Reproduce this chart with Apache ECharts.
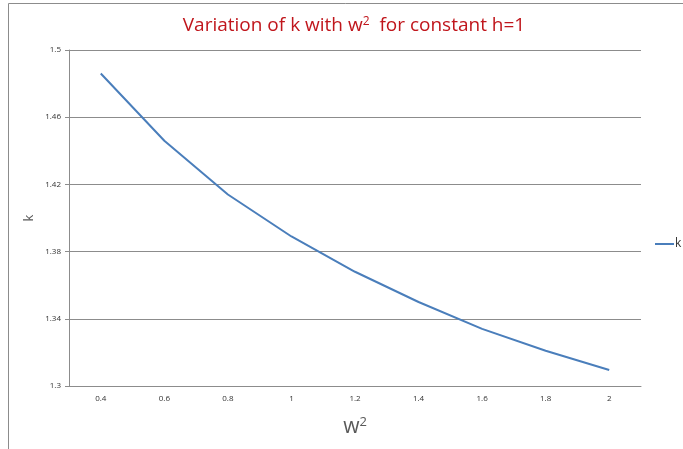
<!DOCTYPE html>
<html>
<head>
<meta charset="utf-8">
<script src="https://cdn.jsdelivr.net/npm/echarts@6/dist/echarts.min.js"></script>
<style>html,body{margin:0;padding:0;background:#fff}#c{width:683px;height:449px}</style>
</head>
<body>
<div id="c"></div>
<script>
var categories = ['0.4','0.6','0.8','1','1.2','1.4','1.6','1.8','2'];
var kValues = [1.486, 1.446, 1.414, 1.389, 1.368, 1.350, 1.334, 1.321, 1.3095];
var yTicks = [1.3, 1.34, 1.38, 1.42, 1.46, 1.5];

var chart = echarts.init(document.getElementById('c'));
chart.setOption({
  animation: false,
  backgroundColor: '#fff',
  title: {
    text: '{a|Variation of k with w}{s|2}{a|  for constant h=1}',
    left: 349, textAlign: 'center', top: 11,
    textStyle: {
      fontWeight: 'normal',
      rich: {
        a: {fontFamily: 'Open Sans', fontSize: 19, fontWeight: 'normal', color: '#C0161C'},
        s: {fontFamily: 'Open Sans', fontSize: 12, fontWeight: 'normal', color: '#C0161C', verticalAlign: 'top', padding: [0,0,8,0]}
      }
    }
  },
  legend: {
    data: ['k'], left: 655, top: 238, orient: 'vertical', padding: 0,
    itemWidth: 19, itemHeight: 2, itemGap: 2,
    icon: 'rect',
    textStyle: {fontFamily: 'Open Sans', fontSize: 12, color: '#333', padding: [0,0,0,-4]}
  },
  grid: {left: 69, right: 42, top: 50, bottom: 63},
  xAxis: {
    type: 'category', data: categories, boundaryGap: true,
    name: '{a|w}{s|2}', nameLocation: 'middle', nameGap: 30,
    nameTextStyle: {
      rich: {
        a: {fontFamily: 'Open Sans', fontSize: 21, color: '#595959'},
        s: {fontFamily: 'Open Sans', fontSize: 13, color: '#595959', verticalAlign: 'top', padding: [0,0,10,0]}
      }
    },
    axisLine: {lineStyle: {color: '#8c8c8c', width: 1}},
    axisTick: {show: false},
    axisLabel: {fontFamily: 'Open Sans', fontSize: 8, color: '#333', margin: 9}
  },
  yAxis: {
    type: 'value', min: 1.3, max: 1.5, interval: 0.04,
    name: 'k', nameLocation: 'middle', nameGap: 33, nameRotate: 90, nameMoveOverlap: false,
    nameTextStyle: {fontFamily: 'Open Sans', fontSize: 13, color: '#595959'},
    axisLine: {show: true, lineStyle: {color: '#8c8c8c', width: 1}},
    axisTick: {show: true, length: 4, lineStyle: {color: '#8c8c8c'}},
    splitLine: {lineStyle: {color: '#8c8c8c', width: 1}},
    axisLabel: {fontFamily: 'Open Sans', fontSize: 8, color: '#333', margin: 8,
      formatter: function (v) { var r = Math.round(v * 100) / 100; return yTicks.indexOf(r) >= 0 ? String(r) : ''; }}
  },
  series: [{
    name: 'k', type: 'line', data: kValues, showSymbol: false, symbol: 'none',
    lineStyle: {color: '#4A7EBB', width: 2}, itemStyle: {color: '#4A7EBB'}
  }],
  graphic: [
    {type: 'line', shape: {x1: 8.5, y1: 3.5, x2: 683, y2: 3.5}, style: {stroke: '#8c8c8c', lineWidth: 1}},
    {type: 'line', shape: {x1: 8.5, y1: 3.5, x2: 8.5, y2: 449}, style: {stroke: '#8c8c8c', lineWidth: 1}}
  ]
});
</script>
</body>
</html>
